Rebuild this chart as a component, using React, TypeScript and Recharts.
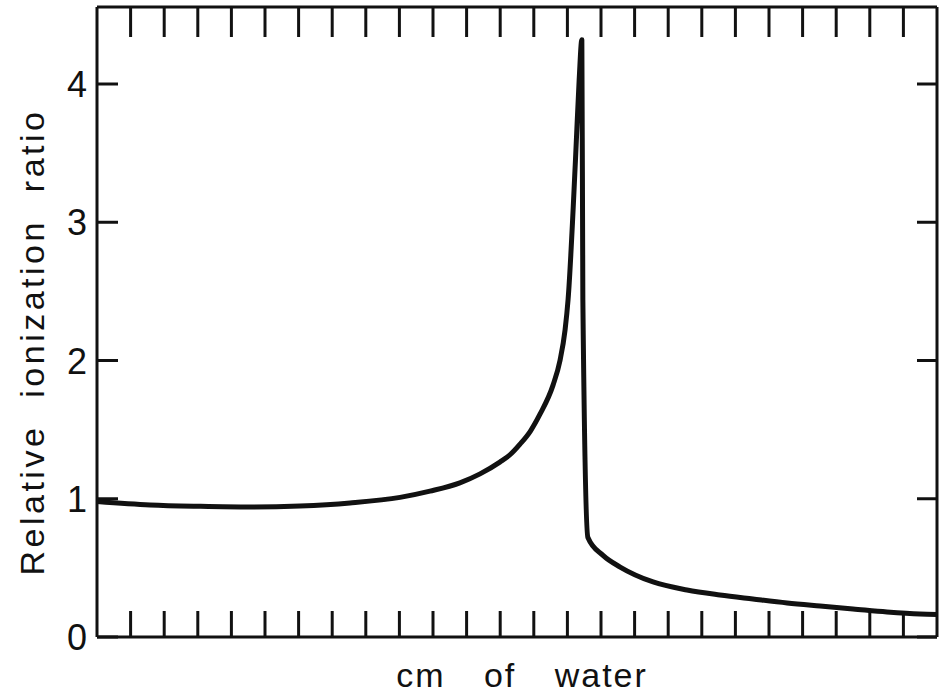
import React from 'react';
import { LineChart, Line, XAxis, YAxis } from 'recharts';

// Depth in water (arbitrary units, one per tick division)
const depth = [
  0, 1.58, 3.07, 4.55, 6.04, 7.53, 9.02, 9.91, 10.8, 11.4, 11.99, 12.3,
  12.59, 12.9, 13.18, 13.57, 13.78, 13.93, 14.02, 14.24, 14.35, 14.43,
  14.46, 14.61, 15.06, 15.57, 16.55, 17.56, 18.54, 19.52, 20.54, 21.52,
  22.5, 23.51, 24.49, 25,
];

// Relative ionization ratio along the depth
const ratio = [
  0.98, 0.955, 0.945, 0.94, 0.948, 0.97, 1.01, 1.055, 1.115, 1.18, 1.265, 1.32,
  1.395, 1.49, 1.61, 1.82, 2.0, 2.22, 2.44, 3.45, 4.03, 4.32,
  2.44, 0.72, 0.59, 0.506, 0.398, 0.34, 0.304, 0.275, 0.246, 0.224,
  0.203, 0.181, 0.166, 0.163,
];

const xTicks = [1, 2, 3, 4, 5, 6, 7, 8, 9, 10, 11, 12, 13, 14, 15, 16, 17, 18, 19, 20, 21, 22, 23, 24];
const yTicks = [0, 1, 2, 3, 4];

const data = depth.map((d, i) => ({ depth: d, ratio: ratio[i] }));

const INK = '#111';
const FONT = "'Liberation Sans', Arial, sans-serif";

const LeftTick = (props: any) => {
  const { x, y, payload } = props;
  return (
    <g>
      <line x1={x} y1={y} x2={x + 21} y2={y} stroke={INK} strokeWidth={3} />
      <text
        x={x - 10}
        y={y}
        dy={13}
        textAnchor="end"
        fontSize={36}
        fontFamily={FONT}
        fill={INK}
      >
        {payload.value}
      </text>
    </g>
  );
};

const RightTick = (props: any) => {
  const { x, y } = props;
  return <line x1={x} y1={y} x2={x - 20} y2={y} stroke={INK} strokeWidth={3} />;
};

const BottomTick = (props: any) => {
  const { x, y } = props;
  return <line x1={x} y1={y} x2={x} y2={y - 26} stroke={INK} strokeWidth={3} />;
};

const TopTick = (props: any) => {
  const { x, y } = props;
  return <line x1={x} y1={y} x2={x} y2={y + 30} stroke={INK} strokeWidth={3} />;
};

const XTitle = (props: any) => {
  const { viewBox } = props;
  const cx = viewBox.x + viewBox.width / 2 + 5;
  return (
    <text
      x={cx}
      y={viewBox.y + 50}
      textAnchor="middle"
      fontSize={34}
      fontFamily={FONT}
      fill={INK}
      style={{ letterSpacing: '2px', wordSpacing: '27px' }}
    >
      cm of water
    </text>
  );
};

const YTitle = (props: any) => {
  const { viewBox } = props;
  const bx = 44;
  const cy = viewBox.y + viewBox.height / 2 + 20;
  return (
    <text
      x={bx}
      y={cy}
      transform={`rotate(-90 ${bx} ${cy})`}
      textAnchor="middle"
      fontSize={34}
      fontFamily={FONT}
      fill={INK}
      style={{ letterSpacing: '3.5px', wordSpacing: '14px' }}
    >
      Relative ionization ratio
    </text>
  );
};

export default function App() {
  return (
    <div style={{ position: 'absolute', left: 0, top: 0, background: '#fff' }}>
      <LineChart
        width={945}
        height={698}
        data={data}
        margin={{ top: 0, right: 0, bottom: 0, left: 0 }}
      >
        <XAxis
          xAxisId="bottom"
          dataKey="depth"
          type="number"
          domain={[0, 25]}
          ticks={xTicks}
          interval={0}
          allowDataOverflow
          height={61}
          tickSize={0}
          tickMargin={0}
          tickLine={false}
          axisLine={{ stroke: INK, strokeWidth: 3 }}
          tick={BottomTick}
          label={<XTitle />}
        />
        <XAxis
          xAxisId="top"
          orientation="top"
          dataKey="depth"
          type="number"
          domain={[0, 25]}
          ticks={xTicks}
          interval={0}
          allowDataOverflow
          height={7}
          tickSize={0}
          tickMargin={0}
          tickLine={false}
          axisLine={{ stroke: INK, strokeWidth: 3 }}
          tick={TopTick}
        />
        <YAxis
          yAxisId="left"
          type="number"
          domain={[0, 4.557]}
          ticks={yTicks}
          interval={0}
          allowDataOverflow
          width={97}
          tickSize={0}
          tickMargin={0}
          tickLine={false}
          axisLine={{ stroke: INK, strokeWidth: 3 }}
          tick={LeftTick}
          label={<YTitle />}
        />
        <YAxis
          yAxisId="right"
          orientation="right"
          type="number"
          domain={[0, 4.557]}
          ticks={yTicks}
          interval={0}
          allowDataOverflow
          width={8}
          tickSize={0}
          tickMargin={0}
          tickLine={false}
          axisLine={{ stroke: INK, strokeWidth: 3 }}
          tick={RightTick}
        />
        <Line
          xAxisId="bottom"
          yAxisId="left"
          type="monotone"
          dataKey="ratio"
          stroke={INK}
          strokeWidth={5}
          strokeLinejoin="round"
          dot={false}
          isAnimationActive={false}
        />
      </LineChart>
    </div>
  );
}
